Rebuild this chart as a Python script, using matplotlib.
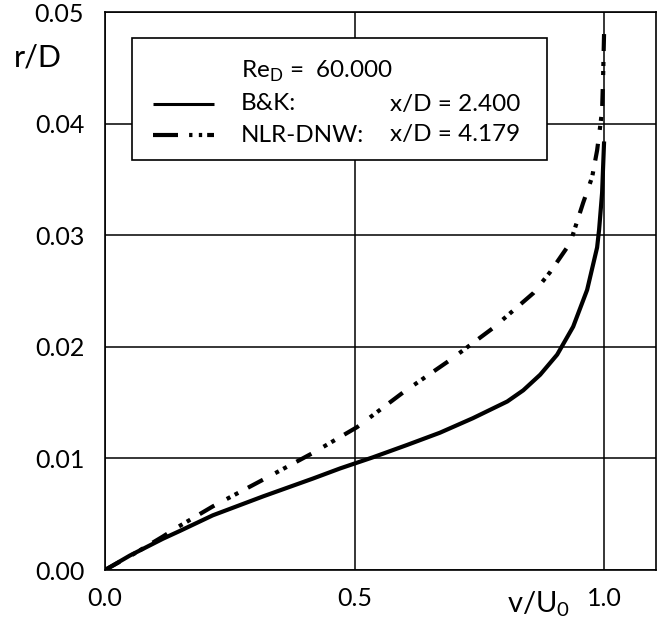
import matplotlib

matplotlib.use("Agg")
import matplotlib.pyplot as plt
from matplotlib.lines import Line2D
from matplotlib.patches import Rectangle

plt.rcParams.update({
    "font.family": ["Lato", "DejaVu Sans"],
    "mathtext.fontset": "custom",
    "mathtext.rm": "Lato",
    "lines.solid_capstyle": "butt",
    "lines.dash_capstyle": "butt",
})

# Radial profiles of the normalised axial velocity, Re_D = 60.000
bk_v = [0.0, 0.05, 0.116, 0.15, 0.216, 0.317, 0.417, 0.471, 0.537, 0.605,
        0.671, 0.737, 0.806, 0.838, 0.872, 0.906, 0.938, 0.966, 0.986,
        0.990, 0.996, 1.0]
bk_r = [0.0, 0.0013, 0.0028, 0.0035, 0.0049, 0.0066, 0.0082, 0.0091, 0.0101,
        0.0112, 0.0123, 0.0136, 0.0151, 0.0161, 0.0175, 0.0193, 0.0218,
        0.0251, 0.0289, 0.0305, 0.0338, 0.0384]

nlr_v = [0.0, 0.06, 0.116, 0.144, 0.216, 0.317, 0.417, 0.505, 0.597, 0.691,
         0.778, 0.858, 0.892, 0.932, 0.958, 0.976, 0.986, 0.992, 0.996,
         0.998, 1.0]
nlr_r = [0.0, 0.0015, 0.0030, 0.0038, 0.0057, 0.0081, 0.0105, 0.0128, 0.0159,
         0.0188, 0.0217, 0.0248, 0.0267, 0.0293, 0.0329, 0.0352, 0.0376,
         0.0397, 0.0412, 0.0442, 0.0482]

x_ticks = [0.0, 0.5, 1.0]
x_tick_labels = ["0.0", "0.5", "1.0"]
y_ticks = [0.00, 0.01, 0.02, 0.03, 0.04, 0.05]
y_tick_labels = ["0.00", "0.01", "0.02", "0.03", "0.04", "0.05"]

LW = 3.0


def dashes(*pts, lw=LW):
    # dash pattern given in points, rescaled for matplotlib's lw scaling
    return (0, tuple(p / lw for p in pts))


DASH_DOT_DOT = dashes(12.2, 10.1, 2.9, 3.6, 2.9, 7.9)

fig = plt.figure(figsize=(6.64, 6.24), dpi=100)
ax = fig.add_axes([105 / 664, 54 / 624, 551 / 664, 558 / 624])

ax.plot(bk_v, bk_r, color="black", lw=LW, solid_joinstyle="round")
ax.plot(nlr_v, nlr_r, color="black", lw=LW, linestyle=DASH_DOT_DOT)

ax.set_xlim(0, 1.104)
ax.set_ylim(0, 0.05)
ax.set_xticks(x_ticks, x_tick_labels)
ax.set_yticks(y_ticks, y_tick_labels)
ax.tick_params(length=0, labelsize=18)
ax.tick_params(axis="x", pad=12)
ax.tick_params(axis="y", pad=15)
ax.grid(True, color="black", lw=1.1)
ax.set_axisbelow(True)
for sp in ax.spines.values():
    sp.set_linewidth(1.2)

ax.text(0.786, -0.062, r"v/U$_0$", transform=ax.transAxes, ha="center",
        va="center", fontsize=21)
fig.text(38 / 664, 1 - 57 / 624, "r/D", ha="center", va="center", fontsize=22)


# hand-built key box
def axpt(px, py):
    return ((px - 105) / 551, (570 - py) / 558)


x0, y0 = axpt(132, 160)
x1, y1 = axpt(547, 38)
ax.add_patch(Rectangle((x0, y0), x1 - x0, y1 - y0, transform=ax.transAxes,
                       facecolor="white", edgecolor="black", lw=1.2, zorder=5))

rows = {"re": 71, "bk": 104, "nlr": 135}
FS = 17.5
tx, _ = axpt(241, 0)
rx, _ = axpt(520, 0)
hx0, _ = axpt(153, 0)
hx1, _ = axpt(214, 0)

ax.text(tx, axpt(0, rows["re"])[1], r"Re$_\mathrm{D}$ =  60.000",
        transform=ax.transAxes, ha="left", va="center", fontsize=FS, zorder=6)

_, yb = axpt(0, rows["bk"])
ax.add_line(Line2D([hx0, hx1], [yb, yb], transform=ax.transAxes,
                   color="black", lw=2.2, zorder=6))
ax.text(tx, yb, "B&K:", transform=ax.transAxes, ha="left", va="center",
        fontsize=FS, zorder=6)
ax.text(rx, yb, "x/D = 2.400", transform=ax.transAxes, ha="right",
        va="center", fontsize=FS, zorder=6)

_, yn = axpt(0, rows["nlr"])
ax.add_line(Line2D([hx0, hx1], [yn, yn], transform=ax.transAxes,
                   color="black", lw=LW, zorder=6,
                   linestyle=dashes(18, 8, 2.4, 4.6, 2.4, 3.6, 7.4, 30)))
ax.text(tx, yn, "NLR-DNW:", transform=ax.transAxes, ha="left", va="center",
        fontsize=FS, zorder=6)
ax.text(rx, yn, "x/D = 4.179", transform=ax.transAxes, ha="right",
        va="center", fontsize=FS, zorder=6)

fig.savefig("out.png", dpi=100, facecolor="white")
